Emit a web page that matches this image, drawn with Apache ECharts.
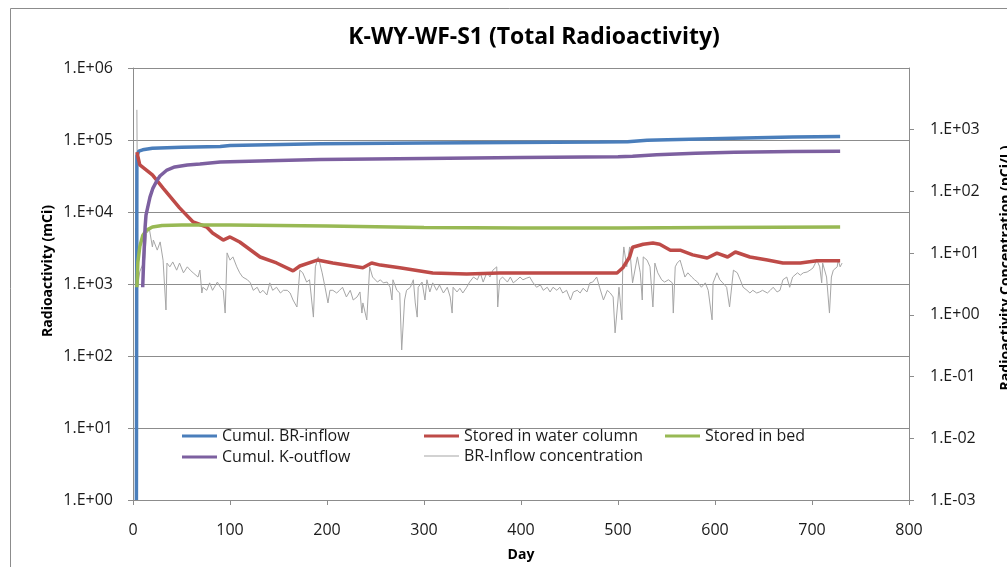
<!DOCTYPE html>
<html><head><meta charset="utf-8">
<script src="https://cdn.jsdelivr.net/npm/echarts@6/dist/echarts.min.js"></script>
<style>html,body{margin:0;padding:0;background:#fff}#c{width:1007px;height:567px}</style>
</head><body><div id="c"></div>
<script>
const titleText = 'K-WY-WF-S1 (Total Radioactivity)';
const xTicks = [0,100,200,300,400,500,600,700,800];
const seriesNames = ['Cumul. BR-inflow','Stored in water column','Stored in bed','Cumul. K-outflow','BR-Inflow concentration'];

const brInflow = [[3.5,1],[4,60000],[6,70000],[10,73000],[20,77000],[50,79000],[90,81000],[100,84000],[193,89000],[300,91000],[481,93500],[510,94500],[530,99000],[551,101000],[619,106000],[680,110000],[729,112000]];
const waterColumn = [[4,68000],[7,45000],[20,32700],[31,21500],[48,11400],[62,7260],[76,6190],[82,5110],[93,4080],[100,4500],[110,3830],[131,2370],[148,1960],[165,1520],[172,1780],[190,2150],[206,1960],[237,1680],[246,1960],[255,1830],[275,1680],[309,1420],[344,1380],[378,1420],[447,1420],[499,1420],[505,1680],[512,2370],[515,3240],[526,3570],[536,3700],[543,3570],[554,2950],[564,2950],[577,2540],[592,2300],[602,2680],[613,2370],[621,2780],[636,2370],[654,2150],[670,1960],[688,1960],[705,2100],[729,2100]];
const bed = [[4,900],[5,2000],[7,3300],[10,4700],[14,5600],[20,6200],[30,6500],[50,6600],[100,6600],[150,6500],[200,6400],[300,6100],[400,6000],[500,6000],[600,6100],[729,6200]];
const kOutflow = [[10,900],[11,2150],[12.5,6200],[13.4,9080],[17.5,16100],[20.6,21500],[25,27800],[27.8,31600],[35,38300],[43,42200],[56,45000],[69,46400],[90,49500],[150,52000],[193,53500],[300,55500],[400,57000],[500,58500],[515,59500],[540,62500],[580,65500],[620,67500],[680,69000],[729,70000]];
const inflowConc = [[4,2100],[5,3.0],[7,5.0],[9,6.0],[12,7.7],[14,21],[17,24],[20,12.6],[21,16.3],[25,11.2],[28,15.2],[31,7.7],[34,1.2],[35,6.9],[38,6.0],[41,7.2],[45,5.3],[48,6.9],[52,4.8],[56,6.0],[59,5.3],[62,4.8],[67,4.1],[69,5.3],[71,2.26],[72,2.8],[76,2.5],[79,3.3],[82,2.5],[87,3.4],[90,2.8],[93,2.5],[95,1.07],[97,10.1],[100,7.7],[103,8.7],[107,6.0],[110,4.8],[113,4.1],[118,3.7],[121,3.3],[124,2.5],[128,2.8],[131,2.26],[134,2.5],[138,2.1],[141,3.3],[144,2.5],[148,2.8],[152,2.26],[155,2.5],[159,2.5],[162,2.26],[165,1.74],[169,1.34],[172,5.3],[175,4.8],[179,3.4],[182,3.7],[186,0.92],[188,6.0],[191,8.7],[195,4.8],[198,2.8],[201,1.56],[203,2.5],[206,2.5],[210,2.26],[213,2.5],[216,2.8],[220,1.95],[224,2.5],[227,1.74],[231,1.95],[234,2.35],[236,1.07],[237,1.56],[241,0.83],[244,6.0],[247,4.1],[252,3.4],[255,3.7],[258,3.3],[262,3.4],[265,2.8],[267,1.74],[268,3.7],[272,2.5],[275,2.26],[277,0.27],[280,1.74],[282,2.5],[286,2.8],[289,3.7],[291,1.56],[293,0.92],[294,2.8],[298,3.4],[301,1.74],[303,3.7],[306,2.35],[309,3.3],[313,2.5],[316,3.05],[320,2.26],[324,2.8],[327,1.95],[329,1.07],[330,2.8],[334,2.35],[337,2.7],[340,2.26],[344,2.8],[347,3.4],[351,4.1],[355,3.7],[358,4.8],[361,3.4],[365,4.95],[368,4.1],[371,5.3],[375,6.0],[376,1.34],[378,3.7],[381,4.1],[386,3.4],[389,4.1],[392,3.3],[396,3.7],[399,4.1],[402,3.7],[406,3.95],[409,4.1],[412,3.4],[416,2.8],[420,3.05],[423,2.5],[427,2.8],[430,2.35],[433,2.8],[437,2.5],[440,2.8],[443,2.26],[447,2.5],[451,1.74],[454,2.35],[458,2.5],[461,2.26],[464,2.7],[468,2.35],[471,3.3],[474,3.4],[478,4.1],[481,2.8],[485,1.74],[489,2.5],[492,2.26],[495,1.95],[497,0.51],[500,1.74],[501,2.8],[504,0.83],[505,7.7],[506,12.6],[509,6.0],[512,12.6],[515,3.3],[520,8.7],[523,4.8],[525,1.74],[526,8.7],[530,7.7],[533,6.0],[536,1.34],[538,6.9],[541,4.8],[545,3.7],[548,3.4],[552,3.7],[556,3.3],[557,1.07],[559,6.0],[561,6.9],[564,7.7],[566,6.0],[569,4.1],[572,4.8],[576,4.1],[579,3.7],[582,3.4],[586,2.8],[590,3.3],[593,2.5],[597,0.83],[598,3.3],[602,4.8],[605,3.7],[608,3.3],[612,2.8],[615,1.34],[619,5.3],[623,4.8],[626,3.7],[629,2.8],[633,2.5],[636,2.26],[639,2.5],[643,2.26],[646,2.35],[649,2.5],[654,2.26],[657,2.5],[660,2.8],[664,2.35],[667,2.5],[670,3.7],[674,4.1],[677,2.8],[680,4.1],[685,4.8],[688,4.4],[691,4.8],[695,4.95],[698,5.3],[701,5.75],[705,7.7],[708,6.0],[710,3.3],[711,6.9],[715,4.1],[718,1.07],[720,4.1],[722,5.3],[726,6.0],[727,7.7],[729,6.0],[731,6.9]];

const FONT = 'Open Sans';
const GRID = '#8c8c8c';
function expFmt(v){
  const e = Math.round(Math.log10(v));
  return '1.E' + (e < 0 ? '-' : '+') + String(Math.abs(e)).padStart(2,'0');
}
const chart = echarts.init(document.getElementById('c'), null, {renderer:'canvas'});
const legendBase = {
  orient:'vertical', icon:'rect', itemWidth:35, itemHeight:3, itemGap:5,
  textStyle:{fontFamily:FONT, fontSize:16, color:'#1a1a1a', lineHeight:14, padding:[0,0,0,0]},
  selectedMode:false
};
chart.setOption({
  animation:false,
  backgroundColor:'#fff',
  title:{text:titleText, left:529, top:21, textAlign:'center',
    textStyle:{fontFamily:FONT, fontSize:23, fontWeight:'bold', color:'#000'}},
  grid:{left:133, right:98, top:68, bottom:67, containLabel:false},
  graphic:[
    {type:'rect', shape:{x:10.5, y:8.5, width:1100, height:700}, style:{fill:'none', stroke:'#8c8c8c', lineWidth:1}, silent:true},
    {type:'text', x:48, y:271, rotation:Math.PI/2, style:{text:'Radioactivity (mCi)', font:'bold 14px "Open Sans"', fill:'#000', textAlign:'center', textVerticalAlign:'middle'}},
    {type:'text', x:1006, y:268, rotation:Math.PI/2, style:{text:'Radioactivity Concentration (pCi/L)', font:'bold 14px "Open Sans"', fill:'#000', textAlign:'center', textVerticalAlign:'middle'}}
  ],
  legend:[
    Object.assign({}, legendBase, {left:177, top:423, data:[seriesNames[0], seriesNames[3]]}),
    Object.assign({}, legendBase, {left:419, top:423, data:[seriesNames[1]]}),
    Object.assign({}, legendBase, {left:419, top:443, itemHeight:1, data:[seriesNames[4]]}),
    Object.assign({}, legendBase, {left:660, top:423, data:[seriesNames[2]]})
  ],
  xAxis:{type:'value', min:xTicks[0], max:xTicks[xTicks.length-1], interval:100,
    name:'Day', nameLocation:'middle', nameGap:48,
    nameTextStyle:{fontFamily:FONT, fontSize:14, fontWeight:'bold', color:'#000'},
    axisLine:{onZero:false, lineStyle:{color:GRID}},
    axisTick:{show:true, length:5, inside:false, lineStyle:{color:GRID}},
    axisLabel:{fontFamily:FONT, fontSize:16, color:'#1a1a1a', margin:22},
    splitLine:{show:false}},
  yAxis:[
    {type:'log', logBase:10, min:1, max:1e6, position:'left',
      axisLine:{show:true, lineStyle:{color:GRID}},
      axisTick:{show:true, length:5, lineStyle:{color:GRID}},
      axisLabel:{fontFamily:FONT, fontSize:16, color:'#1a1a1a', margin:20, formatter:expFmt},
      splitLine:{show:true, lineStyle:{color:GRID, width:1}},
      minorTick:{show:false}},
    {type:'log', logBase:10, min:0.001, max:10000, position:'right',
      axisLine:{show:true, lineStyle:{color:GRID}},
      axisTick:{show:true, length:5, lineStyle:{color:GRID}},
      axisLabel:{fontFamily:FONT, fontSize:16, color:'#1a1a1a', margin:21, showMaxLabel:false,
        formatter:function(v){ return Math.round(Math.log10(v)) >= 4 ? '' : expFmt(v); }},
      splitLine:{show:false}}
  ],
  series:[
    {name:seriesNames[4], type:'line', yAxisIndex:1, data:inflowConc, symbol:'none', color:'#a6a6a6', lineStyle:{width:1, color:'#a6a6a6'}, z:1},
    {name:seriesNames[0], type:'line', yAxisIndex:0, data:brInflow, symbol:'none', color:'#4a7ebb', lineStyle:{width:3.5, color:'#4a7ebb'}, z:2},
    {name:seriesNames[1], type:'line', yAxisIndex:0, data:waterColumn, symbol:'none', color:'#be4b48', lineStyle:{width:3.5, color:'#be4b48'}, z:3},
    {name:seriesNames[2], type:'line', yAxisIndex:0, data:bed, symbol:'none', color:'#98b954', lineStyle:{width:3.5, color:'#98b954'}, z:4},
    {name:seriesNames[3], type:'line', yAxisIndex:0, data:kOutflow, symbol:'none', color:'#7d60a0', lineStyle:{width:3.5, color:'#7d60a0'}, z:5}
  ]
});
</script></body></html>
